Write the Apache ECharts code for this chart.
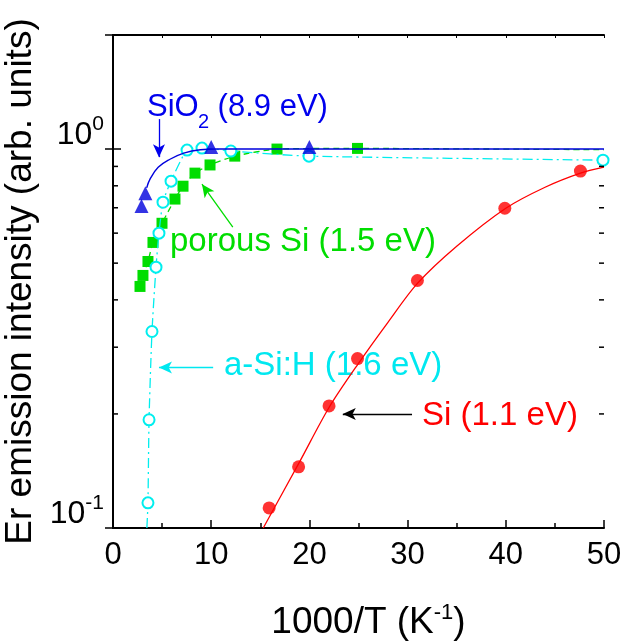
<!DOCTYPE html>
<html>
<head>
<meta charset="utf-8">
<script src="https://cdn.jsdelivr.net/npm/echarts@6/dist/echarts.min.js"></script>
<style>
  html, body { margin: 0; padding: 0; background: #fff; }
  #chart-main { width: 623px; height: 642px; }
</style>
</head>
<body>
<div id="chart-main"></div>
<script>
  // Si (1.1 eV): measured points and fitted curve
  const siX = [15.9, 18.9, 22.0, 24.9, 31.0, 39.9, 47.6];
  const siY = [0.113, 0.145, 0.21, 0.28, 0.45, 0.698, 0.875];
  const siFitX = [15.3, 19, 22, 25, 28, 31, 35, 40, 44, 47.6, 50];
  const siFitY = [0.1, 0.1495, 0.208, 0.272, 0.349, 0.442, 0.554, 0.698, 0.793, 0.864, 0.896];

  // SiO2 (8.9 eV)
  const sio2X = [2.9, 3.3, 10.0, 20.0];
  const sio2Y = [0.708, 0.765, 1.012, 1.012];
  const sio2FitX = [3.43, 3.77, 4.6, 5.8, 7.2, 8.9, 10.6, 20, 50];
  const sio2FitY = [0.79, 0.833, 0.895, 0.94, 0.976, 0.996, 1.0, 1.0, 1.0];

  // porous Si (1.5 eV), last point only carries the dashed line to the edge
  const porX = [2.75, 3.05, 3.56, 4.07, 4.99, 6.31, 7.13, 8.35, 9.88, 12.4, 16.7, 24.9, 50];
  const porY = [0.434, 0.464, 0.505, 0.567, 0.637, 0.738, 0.798, 0.864, 0.908, 0.958, 1.0, 1.004, 0.996];

  // a-Si:H (1.6 eV), first point only starts the line at the axis
  const asiX = [3.45, 3.56, 3.67, 3.97, 4.38, 4.68, 5.09, 5.91, 7.54, 9.06, 12.0, 19.96, 49.9];
  const asiY = [0.1, 0.1165, 0.193, 0.330, 0.488, 0.600, 0.724, 0.823, 0.994, 1.006, 0.988, 0.958, 0.935];

  const yMinorTicks = [0.2, 0.3, 0.4, 0.5, 0.6, 0.7, 0.8, 0.9];

  // arrows [x1, y1, x2, y2]
  const arrowSi = [30.45, 0.2, 23.4, 0.2];
  const arrowAsi = [10.2, 0.265, 4.68, 0.265];
  const arrowPor = [12.2, 0.622, 9.06, 0.808];
  const arrowSio2 = [4.68, 1.2, 4.68, 0.952];

  const zip = (xs, ys) => xs.map((x, i) => [x, ys[i]]);
  const FONT = 'Liberation Sans, Arial, Helvetica, sans-serif';

  function arrow(a, color) {
    return [
      { coord: [a[0], a[1]], lineStyle: { color: color, width: 1.3, type: 'solid' } },
      { coord: [a[2], a[3]] }
    ];
  }

  let chart = echarts.init(document.getElementById('chart-main'));
  chart.setOption({
    animation: false,
    textStyle: { fontFamily: FONT },
    grid: { left: 113, right: 19, top: 35, bottom: 114, outerBoundsMode: 'none', containLabel: false },
    xAxis: [
      {
        type: 'value', min: 0, max: 50, interval: 10, position: 'bottom',
        name: '1000/T (K{s|-1})', nameLocation: 'middle', nameGap: 74,
        nameTextStyle: {
          fontSize: 37, color: '#000', fontFamily: FONT, padding: [0, 0, 0, 20],
          rich: { s: { fontSize: 22, fontFamily: FONT, verticalAlign: 'top', padding: [0, 0, 20, 0] } }
        },
        axisLine: { lineStyle: { color: '#000', width: 2 } },
        axisTick: { inside: true, length: 8, lineStyle: { color: '#000', width: 1.5 } },
        minorTick: { show: true, splitNumber: 2, length: 5, lineStyle: { color: '#000', width: 1.5 } },
        axisLabel: { fontSize: 31, color: '#000', margin: 12, fontFamily: FONT },
        splitLine: { show: false }
      },
      {
        type: 'value', min: 0, max: 50, interval: 10, position: 'top',
        axisLine: { lineStyle: { color: '#000', width: 2 } },
        axisTick: { inside: true, length: 3, lineStyle: { color: '#000', width: 1 } },
        minorTick: { show: true, splitNumber: 2, length: 3, lineStyle: { color: '#000', width: 1 } },
        axisLabel: { show: false },
        splitLine: { show: false }
      }
    ],
    yAxis: [
      {
        type: 'log', logBase: 10, min: 0.1, max: 2, position: 'left',
        name: 'Er emission intensity (arb. units)', nameLocation: 'middle', nameGap: 62,
        nameTextStyle: { fontSize: 37, color: '#000', fontFamily: FONT },
        axisLine: { show: true, lineStyle: { color: '#000', width: 2 } },
        axisTick: { inside: true, length: 8, lineStyle: { color: '#000', width: 1.5 } },
        axisLabel: {
          color: '#000', fontSize: 32, margin: 9, fontFamily: FONT, padding: [0, 0, 28, 0],
          showMaxLabel: false,
          formatter: function (v) {
            const e = Math.round(Math.log10(v));
            if (Math.abs(Math.log10(v) - e) > 1e-6 || v > 1.5) return '';
            return '{b|10}{s|' + e + '}';
          },
          rich: {
            b: { fontSize: 32, fontFamily: FONT, color: '#000' },
            s: { fontSize: 21, fontFamily: FONT, color: '#000', verticalAlign: 'top', padding: [0, 0, 22, 0] }
          }
        },
        splitLine: { show: false }
      },
      {
        type: 'log', logBase: 10, min: 0.1, max: 2, position: 'right',
        axisLine: { show: true, lineStyle: { color: '#000', width: 2 } },
        axisTick: { inside: true, length: 8, lineStyle: { color: '#000', width: 1.5 } },
        axisLabel: { show: false },
        splitLine: { show: false }
      }
    ],
    series: [
      {
        name: 'Si fit', type: 'line', smooth: 0.3, symbol: 'none',
        lineStyle: { color: '#ff0000', width: 1.3 },
        data: zip(siFitX, siFitY),
        markLine: {
          silent: true, symbol: ['none', 'arrow'], symbolSize: [9, 13],
          label: { show: false },
          data: [
            arrow(arrowSi, '#000000'),
            arrow(arrowAsi, '#00e8f0'),
            arrow(arrowPor, '#00dd00'),
            arrow(arrowSio2, '#0000ee')
          ]
        },
        z: 2
      },
      {
        name: 'Si', type: 'scatter', symbol: 'circle', symbolSize: 13,
        itemStyle: { color: '#ff0000' },
        data: zip(siX, siY), z: 3
      },
      {
        name: 'porous Si', type: 'line', smooth: 0.2, symbol: 'rect', symbolSize: 11,
        showAllSymbol: true,
        lineStyle: { color: '#00dd00', width: 1.3, type: [6, 4] },
        itemStyle: { color: '#00dd00' },
        data: zip(porX, porY).map((p, i, arr) => i === arr.length - 1 ? { value: p, symbol: 'none' } : p),
        z: 3
      },
      {
        name: 'a-Si:H', type: 'line', smooth: 0.2, symbol: 'emptyCircle', symbolSize: 11,
        showAllSymbol: true,
        lineStyle: { color: '#00eeee', width: 1.3, type: [10, 4, 2, 4] },
        itemStyle: { color: '#00eeee', borderWidth: 1.6 },
        data: zip(asiX, asiY).map((p, i) => i === 0 ? { value: p, symbol: 'none' } : p),
        z: 4
      },
      {
        name: 'SiO2 fit', type: 'line', smooth: 0.4, symbol: 'none',
        lineStyle: { color: '#0000dd', width: 1.4 },
        data: zip(sio2FitX, sio2FitY), z: 5
      },
      {
        name: 'SiO2', type: 'scatter', symbol: 'triangle', symbolSize: 14,
        itemStyle: { color: '#0000dd' },
        data: zip(sio2X, sio2Y), z: 6
      },
      {
        name: 'minor ticks', type: 'custom', silent: true, z: 7,
        data: yMinorTicks.map(v => [0, v]),
        renderItem: function (params, api) {
          const v = api.value(1);
          const pl = api.coord([0, v]);
          const pr = api.coord([50, v]);
          return {
            type: 'group',
            children: [
              { type: 'line', shape: { x1: pl[0], y1: pl[1], x2: pl[0] + 5, y2: pl[1] }, style: { stroke: '#000', lineWidth: 1.5 } },
              { type: 'line', shape: { x1: pr[0], y1: pr[1], x2: pr[0] - 5, y2: pr[1] }, style: { stroke: '#000', lineWidth: 1.5 } }
            ]
          };
        }
      }
    ],
    graphic: [
      { type: 'text', left: 147, top: 92, style: { text: 'SiO', font: '31px ' + FONT, fill: '#0000ee' } },
      { type: 'text', left: 198, top: 112, style: { text: '2', font: '20px ' + FONT, fill: '#0000ee' } },
      { type: 'text', left: 209, top: 92, style: { text: ' (8.9 eV)', font: '31px ' + FONT, fill: '#0000ee' } },
      { type: 'text', left: 170, top: 225, style: { text: 'porous Si (1.5 eV)', font: '33px ' + FONT, fill: '#00dd00' } },
      { type: 'text', left: 224, top: 349, style: { text: 'a-Si:H (1.6 eV)', font: '33px ' + FONT, fill: '#00e8f0' } },
      { type: 'text', left: 422, top: 399, style: { text: 'Si (1.1 eV)', font: '33px ' + FONT, fill: '#ff0000' } }
    ]
  });
  window.onresize = function () {
    chart.resize();
  };
</script>
</body>
</html>
